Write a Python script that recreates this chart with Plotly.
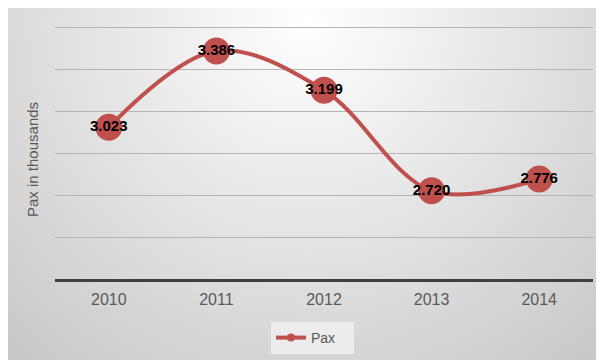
import base64
import plotly.graph_objects as go

years = ["2010", "2011", "2012", "2013", "2014"]
pax = [3.023, 3.386, 3.199, 2.720, 2.776]
pax_labels = ["3.023", "3.386", "3.199", "2.720", "2.776"]
series_name = "Pax"
y_title = "Pax in thousands"

# page body has an 8px margin, so the figure is drawn at (8, 8) in the window
OFF = 8
W, H = 596, 352
L, R, T, B = 47, 11, 18, 81
pw, ph = W - L - R, H - T - B

RED = "#c0504d"

svg = (
    '<svg xmlns="http://www.w3.org/2000/svg" width="596" height="353" viewBox="0 0 596 353" preserveAspectRatio="none">'
    '<defs><radialGradient id="g" gradientUnits="userSpaceOnUse" cx="298" cy="15" r="500">'
    '<stop offset="0" stop-color="#ffffff"/><stop offset="1" stop-color="#c1c1c1"/>'
    '</radialGradient></defs>'
    '<rect x="0" y="0" width="596" height="353" fill="url(#g)"/></svg>'
)
src = "data:image/svg+xml;base64," + base64.b64encode(svg.encode()).decode()

fig = go.Figure()
fig.add_trace(go.Scatter(
    x=years, y=pax, mode="lines+markers+text",
    line=dict(color=RED, width=4, shape="spline", smoothing=1.0),
    marker=dict(color=RED, size=27),
    text=pax_labels, textposition="middle center",
    textfont=dict(family="Liberation Sans", size=15, color="#000000", weight="bold"),
    showlegend=False, hoverinfo="x+y",
))
fig.add_trace(go.Scatter(
    x=[None], y=[None], mode="lines+markers", name=series_name,
    line=dict(color=RED, width=4), marker=dict(color=RED, size=8),
))

fig.update_layout(
    width=W, height=H, autosize=False,
    margin=dict(l=L, r=R, t=T, b=B, autoexpand=False),
    paper_bgcolor="#ffffff", plot_bgcolor="rgba(0,0,0,0)",
    font=dict(family="Liberation Sans", color="#595959"),
    images=[dict(
        source=src, xref="paper", yref="paper",
        x=-L / pw, y=(H - B + 1) / ph,
        sizex=W / pw, sizey=(H + 1) / ph,
        xanchor="left", yanchor="top", sizing="stretch", layer="below",
    )],
    xaxis=dict(
        type="category", range=[-0.5, 4.5], showgrid=False, showline=True,
        linecolor="#404040", linewidth=2.5, ticks="", automargin=False,
        tickfont=dict(size=16, color="#595959"), zeroline=False,
        ticklabelstandoff=4,
    ),
    yaxis=dict(
        range=[2.3, 3.505], dtick=0.2, tick0=2.3, showticklabels=False,
        showgrid=True, gridcolor="#b4b4b4", gridwidth=1, zeroline=False,
        showline=False, ticks="", automargin=False,
    ),
    legend=dict(
        orientation="h", xref="container", yref="container",
        x=(271 - OFF) / W, y=1 - (322 - OFF) / H,
        xanchor="left", yanchor="top", bgcolor="#ececec",
        font=dict(size=14, color="#595959"),
        entrywidth=38, entrywidthmode="pixels",
    ),
    annotations=[dict(
        text=y_title, xref="paper", yref="paper",
        x=(32 - OFF - L) / pw, y=(H - B - (160 - OFF)) / ph, textangle=-90,
        showarrow=False, font=dict(size=15, color="#595959"),
        xanchor="center", yanchor="middle",
    )],
)

fig.write_html("out.html")
